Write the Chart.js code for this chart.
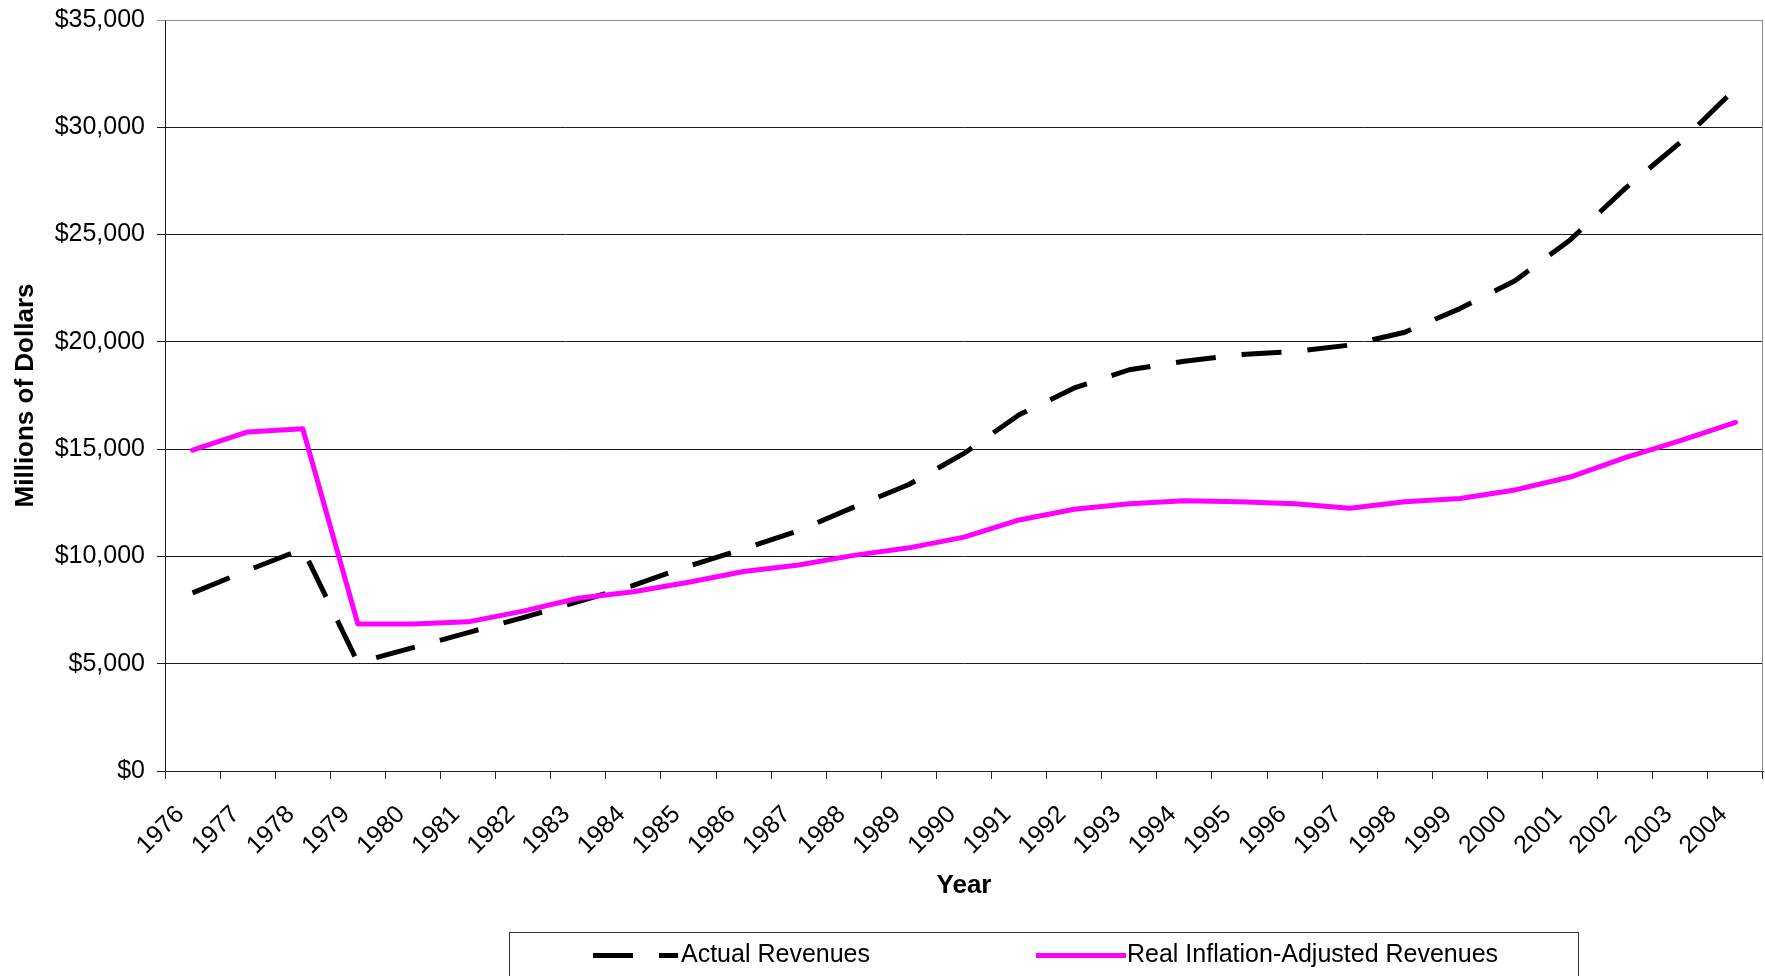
<!DOCTYPE html>
<html>
<head>
<meta charset="utf-8">
<title>Actual and Real Inflation-Adjusted Revenues, 1976-2004</title>
<script src="https://cdn.jsdelivr.net/npm/chart.js@4/dist/chart.umd.min.js"></script>
<style>
  html, body { margin: 0; padding: 0; background: #ffffff; }
  canvas { display: block; }
</style>
</head>
<body>
<canvas id="chart" width="1765" height="976"></canvas>
<script>
// Revenues in millions of dollars, one value per year.
const years = ['1976', '1977', '1978', '1979', '1980', '1981', '1982', '1983', '1984', '1985',
               '1986', '1987', '1988', '1989', '1990', '1991', '1992', '1993', '1994', '1995',
               '1996', '1997', '1998', '1999', '2000', '2001', '2002', '2003', '2004'];

const actualRevenues = [8300, 9350, 10350, 5050, 5750, 6450, 7150, 7900, 8650, 9550,
                        10350, 11200, 12300, 13350, 14800, 16600, 17850, 18700, 19100, 19400,
                        19550, 19850, 20450, 21550, 22850, 24750, 27150, 29300, 31800];

const realRevenues = [14950, 15800, 15950, 6850, 6850, 6950, 7450, 8050, 8350, 8800,
                      9300, 9600, 10050, 10400, 10900, 11700, 12200, 12450, 12600, 12550,
                      12450, 12250, 12550, 12700, 13100, 13700, 14600, 15400, 16250];

const yTickLabels = ['$0', '$5,000', '$10,000', '$15,000', '$20,000', '$25,000', '$30,000', '$35,000'];

const seriesNames = ['Actual Revenues', 'Real Inflation-Adjusted Revenues'];
const xAxisTitle = 'Year';
const yAxisTitle = 'Millions of Dollars';

const FONT = '"Liberation Sans", Arial, Helvetica, sans-serif';
Chart.defaults.font.family = FONT;
Chart.defaults.font.size = 25;
Chart.defaults.color = '#000000';

// Grey frame along the top and right of the plot area.
const plotFrame = {
  id: 'plotFrame',
  beforeDatasetsDraw(chart) {
    const { ctx, chartArea: a } = chart;
    ctx.save();
    ctx.strokeStyle = '#8c8c8c';
    ctx.lineWidth = 1;
    ctx.beginPath();
    ctx.moveTo(Math.round(a.left) + 0.5, Math.round(a.top) + 0.5);
    ctx.lineTo(Math.round(a.right) - 0.5, Math.round(a.top) + 0.5);
    ctx.lineTo(Math.round(a.right) - 0.5, Math.round(a.bottom) + 0.5);
    ctx.stroke();
    ctx.restore();
  }
};

// Boxed legend below the axis title; line samples use each dataset's own stroke style.
const boxedLegend = {
  id: 'boxedLegend',
  afterDraw(chart) {
    const { ctx } = chart;
    const box = { x: 509.5, y: 932.5, w: 1069, h: 70 };
    const items = [
      { x0: 593, x1: 678, tx: 681 },
      { x0: 1036, x1: 1126, tx: 1127 }
    ];
    const cy = 955.5;
    ctx.save();
    ctx.strokeStyle = '#333333';
    ctx.lineWidth = 1;
    ctx.strokeRect(box.x, box.y, box.w, box.h);
    chart.data.datasets.forEach((ds, i) => {
      const it = items[i];
      ctx.save();
      ctx.strokeStyle = ds.borderColor;
      ctx.lineWidth = ds.borderWidth;
      ctx.lineCap = 'butt';
      ctx.setLineDash(ds.borderDash || []);
      ctx.beginPath();
      ctx.moveTo(it.x0, cy);
      ctx.lineTo(it.x1, cy);
      ctx.stroke();
      ctx.restore();
      ctx.fillStyle = '#000000';
      ctx.font = '25px ' + FONT;
      ctx.textAlign = 'left';
      ctx.textBaseline = 'middle';
      ctx.fillText(ds.label, it.tx, cy);
    });
    ctx.restore();
  }
};

new Chart(document.getElementById('chart'), {
  type: 'line',
  data: {
    labels: years,
    datasets: [
      {
        label: seriesNames[0],
        data: actualRevenues,
        borderColor: '#000000',
        borderWidth: 5,
        borderDash: [40, 26],
        borderCapStyle: 'butt',
        borderJoinStyle: 'round',
        pointRadius: 0,
        tension: 0,
        fill: false,
        order: 1
      },
      {
        label: seriesNames[1],
        data: realRevenues,
        borderColor: '#ff00ff',
        borderWidth: 5,
        borderCapStyle: 'round',
        borderJoinStyle: 'round',
        pointRadius: 0,
        tension: 0,
        fill: false,
        order: 0
      }
    ]
  },
  options: {
    responsive: false,
    animation: false,
    devicePixelRatio: 1,
    layout: { padding: { top: 20, right: 2, bottom: 71, left: 0 } },
    plugins: {
      legend: { display: false },
      tooltip: { enabled: false }
    },
    scales: {
      x: {
        type: 'category',
        offset: true,
        grid: {
          offset: true,
          drawOnChartArea: false,
          drawTicks: true,
          tickLength: 8,
          color: '#222222',
          lineWidth: 1
        },
        border: { display: true, color: '#222222', width: 1 },
        ticks: {
          autoSkip: false,
          minRotation: 45,
          maxRotation: 45,
          padding: 21,
          labelOffset: -12,
          font: { size: 25 }
        },
        title: {
          display: true,
          text: xAxisTitle,
          font: { size: 26, weight: 'bold' },
          padding: { top: 0, bottom: 4 }
        },
        afterFit(scale) {
          scale.height = 134;
          scale.paddingLeft = 0;
          scale.paddingRight = 0;
        }
      },
      y: {
        min: 0,
        max: 35000,
        grid: {
          color: (c) => (c.tick && c.tick.value === 35000 ? '#8c8c8c' : '#1a1a1a'),
          lineWidth: 1,
          drawTicks: true,
          tickLength: 8
        },
        border: { display: true, color: '#1a1a1a', width: 1 },
        ticks: {
          stepSize: 5000,
          padding: 12,
          font: { size: 25 },
          callback: (value, index) => yTickLabels[index]
        },
        title: {
          display: true,
          text: yAxisTitle,
          font: { size: 26, weight: 'bold' },
          padding: { top: 10, bottom: 0 }
        },
        afterFit(scale) {
          scale.width = 165;
          scale.paddingTop = 0;
          scale.paddingBottom = 0;
        }
      }
    }
  },
  plugins: [plotFrame, boxedLegend]
});
</script>
</body>
</html>
